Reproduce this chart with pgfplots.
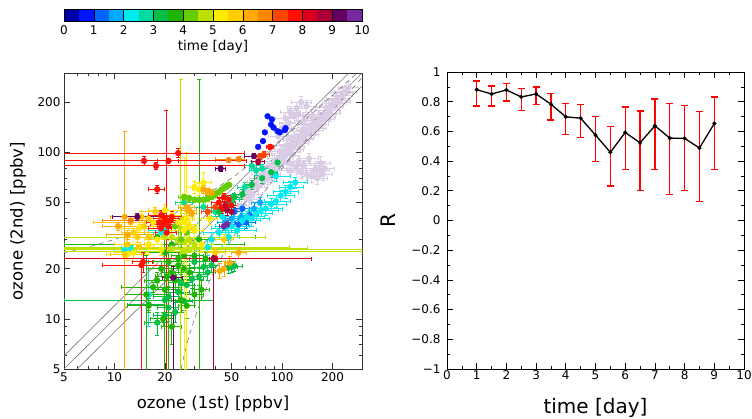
\documentclass[border=0pt]{standalone}
\usepackage{fontspec}
\setmainfont{DejaVu Sans}
\usepackage{pgfplots}
\pgfplotsset{compat=1.18}
\definecolor{c0}{RGB}{0,0,170}
\definecolor{c1}{RGB}{0,20,255}
\definecolor{c2}{RGB}{0,100,255}
\definecolor{c3}{RGB}{0,170,255}
\definecolor{c4}{RGB}{0,235,240}
\definecolor{c5}{RGB}{0,220,160}
\definecolor{c6}{RGB}{0,190,70}
\definecolor{c7}{RGB}{30,180,0}
\definecolor{c8}{RGB}{100,205,0}
\definecolor{c9}{RGB}{190,225,0}
\definecolor{c10}{RGB}{255,235,0}
\definecolor{c11}{RGB}{255,205,0}
\definecolor{c12}{RGB}{255,170,0}
\definecolor{c13}{RGB}{255,135,0}
\definecolor{c14}{RGB}{255,70,0}
\definecolor{c15}{RGB}{255,15,0}
\definecolor{c16}{RGB}{215,0,30}
\definecolor{c17}{RGB}{170,0,55}
\definecolor{c18}{RGB}{100,0,100}
\definecolor{c19}{RGB}{120,40,160}
\definecolor{lav}{RGB}{218,204,228}
\definecolor{refgray}{RGB}{120,120,120}
\pgfplotsset{
  table/x error minus=xm, table/x error plus=xp,
  table/y error minus=ym, table/y error plus=yp,
  sc/.style={only marks, mark=*, mark size=3bp, color=#1, mark options={line width=0.2bp},
    error bars/.cd, x dir=both, y dir=both, x explicit, y explicit,
    error bar style={line width=0.8bp}, error mark options={rotate=90, mark size=2bp, line width=0.8bp}},
  tfont/.style={font=\fontsize{12bp}{14bp}\selectfont},
}
\begin{document}
\begin{tikzpicture}[x=1bp,y=1bp]
\useasboundingbox (0,0) rectangle (752,418);
% ---------------- colour bar ----------------
\begin{axis}[at={(64bp,397bp)}, anchor=south west, scale only axis,
  width=298bp, height=12bp, xmin=0, xmax=10, ymin=0, ymax=1,
  axis on top, axis line style={line width=0.9bp},
  ytick=\empty, xtick={0,1,2,3,4,5,6,7,8,9,10},
  xticklabels={0,1,2,3,4,5,6,7,8,9,10}, major tick length=0pt,
  xmajorgrids, major grid style={black, line width=0.6bp},
  tick label style={tfont}, xticklabel style={yshift=-1bp},
  xlabel={time [day]}, xlabel style={font=\fontsize{13.5bp}{15bp}\selectfont, at={(axis description cs:0.5,0)}, anchor=center, yshift=-26bp}]
\addplot[fill=c0,draw=none] coordinates {(0,1)(0.5,1)} \closedcycle;
\addplot[fill=c1,draw=none] coordinates {(0.5,1)(1,1)} \closedcycle;
\addplot[fill=c2,draw=none] coordinates {(1,1)(1.5,1)} \closedcycle;
\addplot[fill=c3,draw=none] coordinates {(1.5,1)(2,1)} \closedcycle;
\addplot[fill=c4,draw=none] coordinates {(2,1)(2.5,1)} \closedcycle;
\addplot[fill=c5,draw=none] coordinates {(2.5,1)(3,1)} \closedcycle;
\addplot[fill=c6,draw=none] coordinates {(3,1)(3.5,1)} \closedcycle;
\addplot[fill=c7,draw=none] coordinates {(3.5,1)(4,1)} \closedcycle;
\addplot[fill=c8,draw=none] coordinates {(4,1)(4.5,1)} \closedcycle;
\addplot[fill=c9,draw=none] coordinates {(4.5,1)(5,1)} \closedcycle;
\addplot[fill=c10,draw=none] coordinates {(5,1)(5.5,1)} \closedcycle;
\addplot[fill=c11,draw=none] coordinates {(5.5,1)(6,1)} \closedcycle;
\addplot[fill=c12,draw=none] coordinates {(6,1)(6.5,1)} \closedcycle;
\addplot[fill=c13,draw=none] coordinates {(6.5,1)(7,1)} \closedcycle;
\addplot[fill=c14,draw=none] coordinates {(7,1)(7.5,1)} \closedcycle;
\addplot[fill=c15,draw=none] coordinates {(7.5,1)(8,1)} \closedcycle;
\addplot[fill=c16,draw=none] coordinates {(8,1)(8.5,1)} \closedcycle;
\addplot[fill=c17,draw=none] coordinates {(8.5,1)(9,1)} \closedcycle;
\addplot[fill=c18,draw=none] coordinates {(9,1)(9.5,1)} \closedcycle;
\addplot[fill=c19,draw=none] coordinates {(9.5,1)(10,1)} \closedcycle;
\end{axis}
% ---------------- scatter ----------------
\begin{axis}[at={(64bp,49bp)}, anchor=south west, scale only axis,
  width=298bp, height=296bp, xmode=log, ymode=log,
  xmin=5, xmax=300, ymin=5, ymax=300,
  axis line style={line width=0.9bp, black!80},
  xtick={5,10,20,50,100,200}, xticklabels={5,10,20,50,100,200},
  ytick={5,10,20,50,100,200}, yticklabels={5,10,20,50,100,200},
  minor xtick={6,7,8,9,30,40,60,70,80,90,300},
  minor ytick={6,7,8,9,30,40,60,70,80,90,300},
  tick align=inside, major tick length=6bp, minor tick length=3bp,
  tick style={line width=0.7bp, black!80},
  tick label style={tfont},
  xlabel={ozone (1st) [ppbv]}, ylabel={ozone (2nd) [ppbv]},
  label style={font=\fontsize{16.5bp}{18bp}\selectfont},
  xlabel style={at={(axis description cs:0.5,0)}, anchor=center, yshift=-35bp},
  ylabel style={at={(axis description cs:0,0.5)}, anchor=center, yshift=46bp}]
% lavender reference cloud
\addplot[sc=lav] table {
x y xm xp ym yp
56 48 6 8 4 4
60 54 8 8 5 5
63 58 7 9 5 5
64 52 7 9 5 5
66 56 8 10 5 5
68 64 8 10 6 6
70 66 8 10 6 6
72 62 10 10 6 6
74 70 10 12 6 6
76 74 10 12 6 6
78 68 10 12 6 8
80 76 12 12 8 8
82 70 12 12 6 8
84 74 12 14 8 8
86 82 12 14 8 8
88 84 12 14 8 8
90 88 14 14 8 10
92 80 12 16 8 8
94 86 12 16 8 8
96 92 14 16 10 10
98 102 14 16 10 10
100 98 14 16 10 10
102 88 16 16 8 10
104 96 16 16 8 10
106 104 16 18 10 10
108 110 16 18 10 10
110 100 16 18 10 10
112 112 16 20 10 12
114 104 16 20 10 12
116 108 18 20 10 12
118 122 18 20 12 12
120 118 18 20 12 12
124 114 18 20 12 12
126 118 18 20 12 12
128 126 20 22 12 12
132 120 20 22 12 14
134 126 20 22 12 14
136 134 20 24 12 14
140 128 20 24 12 14
142 136 20 24 12 14
146 142 22 24 14 14
150 136 22 26 14 14
152 146 22 26 14 14
156 150 24 26 14 16
158 140 24 26 14 16
162 148 24 28 14 16
166 156 24 28 14 16
168 162 24 28 16 16
174 158 26 30 16 16
178 164 26 30 16 16
180 170 26 30 16 18
184 186 26 30 16 18
188 178 28 32 18 18
192 172 28 32 18 18
196 188 30 32 18 20
200 190 30 32 18 20
205 198 30 34 20 20
210 205 30 34 20 20
215 210 30 36 20 20
220 200 30 36 20 20
228 220 32 36 20 22
230 228 32 36 20 22
240 232 34 36 20 22
250 245 34 36 20 22
110 150 14 16 12 14
105 160 14 16 12 14
112 175 14 16 12 14
118 165 16 18 14 14
122 185 14 18 16 16
125 170 14 18 16 16
130 200 16 20 16 18
135 155 16 20 16 18
140 190 18 20 16 16
150 165 18 20 16 16
100 140 14 14 12 12
95 125 12 14 10 10
115 85 16 18 8 8
122 80 16 18 6 8
125 88 16 18 6 8
130 76 16 20 6 6
135 84 16 20 6 6
140 74 18 20 6 6
145 92 18 20 6 6
150 72 18 20 6 6
155 78 18 20 6 6
162 70 20 24 6 6
168 78 20 24 6 6
175 74 22 24 6 8
180 80 22 24 6 8
160 80 20 22 8 8
170 86 22 24 8 8
110 78 14 16 6 6
};
% reference lines
\addplot[refgray, line width=0.6bp] coordinates {(5,5)(300,300)};
\addplot[refgray, line width=0.6bp] coordinates {(5,6)(250,300)};
\addplot[refgray, line width=0.6bp] coordinates {(6,5)(300,250)};
\addplot[refgray, line width=0.6bp, dash pattern=on 5bp off 4bp] coordinates {(5,25)(7,27)(10,30)(15,35)(20,40)(30,50)(50,70)(80,100)(120,140)(200,220)(280,300)};
\addplot[refgray, line width=0.6bp, dash pattern=on 5bp off 4bp] coordinates {(25,5)(26,6)(28,8)(30,10)(33,13)(36,16)(40,20)(50,30)(70,50)(100,80)(150,130)(200,180)(300,280)};
% coloured points by time bin
\addplot[sc=c1] table {
x y xm xp ym yp
82 165 0 0 0 0
87 158 0 0 0 0
86 147 0 0 0 0
89 141 0 0 0 0
94 134 0 0 0 0
97 132 0 0 0 0
104 136 0 0 0 0
105 140 0 0 0 0
79 132 0 0 0 0
77 117 0 0 0 0
72 108 0 0 0 0
};
\addplot[sc=c2] table {
x y xm xp ym yp
55 37 6 8 3 3
61 38 8 8 3 3
64 42 6 8 3 3
52 44 5 6 3 3
58 46 6 6 3 3
};
\addplot[sc=c3] table {
x y xm xp ym yp
50 40 6 8 3 3
57 41 6 8 3 3
68 46 8 10 4 4
74 50 8 10 4 4
46 38 5 6 3 3
};
\addplot[sc=c4] table {
x y xm xp ym yp
38 30 8 10 3 3
42 33 8 12 3 3
46 35 8 14 3 3
50 36 10 14 3 3
54 34 10 16 3 3
58 39 10 16 3 3
62 41 12 16 3 3
66 40 12 18 4 4
70 43 12 18 4 4
75 45 12 20 4 4
80 46 14 20 4 4
86 49 14 20 4 4
92 51 14 20 4 4
98 55 16 20 4 4
105 58 16 20 5 5
112 62 16 22 5 5
120 66 18 22 5 5
92 72 16 20 5 5
44 41 6 8 3 3
48 31 6 8 3 3
36 27 6 8 3 3
19 33 4 5 2 2
20 34 4 5 2 2
11.5 26 1.5 2 1 1
12.5 26.5 1.5 2 1 1
16 14 0.5 0.5 5 6
};
\addplot[sc=c5] table {
x y xm xp ym yp
26 50 3 3 3 3
34 47 4 4 3 3
45 47 5 6 3 3
50 52 5 6 4 4
66 83 6 8 5 5
70 78 6 8 5 5
60 62 6 6 4 4
76 80 8 8 5 5
40 44 4 6 3 3
};
\addplot[sc=c6] table {
x y xm xp ym yp
94 87 8 8 5 5
86 76 8 8 5 5
76 70 8 8 5 5
66 64 6 6 4 4
58 56 6 6 4 4
52 54 5 5 3 3
48 50 5 5 3 3
42 44 4 4 3 3
48 20.3 4 4 1.5 1.5
50 20.5 4 4 1.5 1.5
52 20.8 4 6 1.5 1.5
34 20.5 6 6 2 2
29 17.3 5 5 2 2
25 16.5 4 4 2 2
24 14.5 4 4 2 2
21 13.6 4 4 2 2
21 11.7 3 3 2 2
16 12.2 4 4 1 1
30 22 14 16 2 2
20 13 15 19 0 0
32 18 4 4 2 2
36 19 4 4 2 2
38 21 4 4 2 2
27 16 3 3 2 2
23 11 3 3 1.5 1.5
20 10.5 3 3 1.5 1.5
18 9.5 3 3 1.5 1.5
26 12.8 3 3 1.5 1.5
};
\addplot[sc=c7] table {
x y xm xp ym yp
20 25 5 6 24 8
21 22 4 4 21 6
20.5 18 3 3 17 10
32 30 10 15 29 245
22 28 17 38 2 2
18 31 17 51 1 1
15.5 14 4 6 13 10
17 15.5 6 8 1 1
16 12 4 4 1 1
19.5 10 3 3 1 1
22 9 3 3 2 2
19 20 3 3 2 2
22 19 3 3 2 2
24 21 4 4 2 2
26 20 4 4 2 2
28 19 4 4 2 2
23 17 3 3 2 2
25 13 3 3 2 2
27 12 3 3 2 2
30 14 4 4 2 2
33 15 4 4 2 2
20 15 3 3 2 2
18 17 3 3 2 2
24 23 4 4 2 2
26 24 4 4 2 2
30 24 4 4 2 2
35 23 4 4 2 2
};
\addplot[sc=c9] table {
x y xm xp ym yp
24.8 35 3 3 34 240
26 25.5 25 274 1 1
28 26 27 272 1 1
22 26.5 21 120 1 1
30 27 29 80 1 1
20 31 19 60 1 1
22 31 3 3 3 3
24 30 3 3 3 3
26 29 3 3 2 2
28 30 3 3 3 3
30 28 3 3 2 2
28 36 3 3 3 3
26 40 3 3 3 3
};
\addplot[sc=c8] table {
x y xm xp ym yp
26 54 2 2 2 2
28 53 2 2 2 2
30 52 2 2 2 2
32 52 2 2 2 2
34 52 2 2 2 2
36 53 2 2 2 2
38 54 2 2 2 2
40 56 2 2 2 2
42 58 2 2 2 2
44 60 2 2 2 2
46 62 2 2 2 2
48 64 2 2 2 2
23 36 3 3 3 3
27 33 3 3 3 3
25 30 3 4 3 3
};
\addplot[sc=c10] table {
x y xm xp ym yp
27 40 3 3 39 60
26.2 38 2 2 37 55
34 66 4 4 8 10
30 62 3 3 5 5
32 60 3 3 5 5
22 42 3 3 3 3
24 38 3 3 3 3
28 36 3 3 3 3
30 34 4 4 3 3
26 34 5 5 3 3
33 28 6 6 3 3
13 25 3 3 2 2
12 24.5 3 4 2 2
20 45 4 6 4 4
37 40 4 4 3 3
16 28 3 3 2 2
18 30 3 3 2 2
14 35 3 3 2 2
17 38 3 3 2 2
19 26 3 3 2 2
};
\addplot[sc=c11] table {
x y xm xp ym yp
14.5 41 3 4 3 3
13 33 2 3 2 2
13.7 31 2 3 2 2
16 31 2 3 2 2
11.5 24.4 2 3 1 1
15 36 4 5 3 3
12.5 38 5 8 2 2
17.5 44 3 3 3 3
40 25 4 6 2 2
45 30 5 6 2 2
12 28 2 3 2 2
14 27 2 3 2 2
16 40 3 3 2 2
};
\addplot[sc=c12] table {
x y xm xp ym yp
11.5 41 2 3 40 93
12 32 3 5 2 2
34 60 3 3 3 3
36 58 3 3 3 3
38 57 3 3 3 3
27 47 3 3 3 3
28 45 3 3 3 3
29 43 2 2 2 2
55 25 5 6 2 2
48.7 21.7 3 3 2 2
45 20 3 3 2 2
42.5 19.4 3 3 2 2
10.5 36 2 4 2 2
};
\addplot[sc=c13] table {
x y xm xp ym yp
55 91 15 5 3 3
48 90 8 8 2 2
12.5 39 4 10 2 2
19 41 3 3 3 3
};
\addplot[sc=c14] table {
x y xm xp ym yp
78 97 6 6 4 4
74 95 6 6 4 4
40 47 4 4 3 3
36 44 3 3 3 3
};
\addplot[sc=c15] table {
x y xm xp ym yp
24 99 23 36 6 6
15 89 14 46 6 6
21 89 3 3 3 3
17.7 83 16.7 42 4 4
85 108 4 4 4 4
18 60 2 2 3 3
20.4 38 4 4 37 140
19.5 37 3 4 3 3
21 36 3 3 3 3
20 40 3 4 3 3
19 35 3 3 3 3
20.5 33 3 3 3 3
21.5 39 3 3 3 3
19 42 3 3 3 3
22 41 3 3 3 3
18.5 38 3 3 3 3
45 54 4 4 3 3
48 52 4 4 3 3
42 50 4 4 3 3
44 46 3 3 3 3
50 48 4 4 3 3
14.5 21 6 6 20 1
14.8 22 2 2 3 3
};
\addplot[sc=c16] table {
x y xm xp ym yp
40 23 39 110 1 1
46 48 3 3 3 3
};
\addplot[sc=c17] table {
x y xm xp ym yp
39 23 2 2 22 1
47 45 3 3 3 3
50 44 3 3 3 3
72 88 6 6 3 3
};
\addplot[sc=c18] table {
x y xm xp ym yp
13.7 41 4 6 2 2
43 80 3 3 3 3
22.4 17.7 3 3 16.7 3
68 95 8 8 3 3
};
\addplot[sc=c19] table {
x y xm xp ym yp
45 36 3 3 2 2
47 37 2 2 2 2
};
\end{axis}
% ---------------- correlation ----------------
\begin{axis}[at={(447bp,49bp)}, anchor=south west, scale only axis,
  width=297bp, height=297bp, xmin=0, xmax=10, ymin=-1, ymax=1,
  axis line style={line width=0.9bp},
  xtick={0,1,2,3,4,5,6,7,8,9,10}, xticklabels={0,1,2,3,4,5,6,7,8,9,10},
  ytick={-1,-0.8,-0.6,-0.4,-0.2,0,0.2,0.4,0.6,0.8,1},
  yticklabels={−1,−0.8,−0.6,−0.4,−0.2,0,0.2,0.4,0.6,0.8,1},
  minor x tick num=1, minor y tick num=1,
  tick align=inside, major tick length=6bp, minor tick length=3bp,
  tick style={line width=0.7bp, black},
  tick label style={tfont}, xticklabel style={yshift=2bp}, yticklabel style={xshift=-3bp},
  xlabel={time [day]}, ylabel={R},
  label style={font=\fontsize{20bp}{22bp}\selectfont},
  xlabel style={at={(axis description cs:0.5,0)}, anchor=center, yshift=-39bp},
  ylabel style={at={(axis description cs:0,0.5)}, anchor=center, yshift=59bp}]
\addplot[red, line width=1.3bp, mark=none, draw=none,
  error bars/.cd, y dir=both, y explicit,
  error bar style={line width=1.3bp, solid}, error mark options={rotate=90, mark size=3.5bp, line width=1.3bp}]
 table {
x y xm xp ym yp
1.0 0.881 0 0 0.109 0.059
1.5 0.852 0 0 0.080 0.054
2.0 0.879 0 0 0.074 0.045
2.5 0.832 0 0 0.092 0.058
3.0 0.852 0 0 0.069 0.047
3.5 0.783 0 0 0.107 0.072
4.0 0.698 0 0 0.121 0.089
4.5 0.689 0 0 0.132 0.094
5.0 0.575 0 0 0.179 0.127
5.5 0.459 0 0 0.226 0.174
6.0 0.593 0 0 0.248 0.172
6.5 0.523 0 0 0.319 0.215
7.0 0.638 0 0 0.296 0.181
7.5 0.555 0 0 0.381 0.232
8.0 0.553 0 0 0.352 0.221
8.5 0.488 0 0 0.360 0.244
9.0 0.653 0 0 0.308 0.179
};
\addplot[black, line width=1.3bp, mark=*, mark size=1.3bp] table {
x y xm xp ym yp
1.0 0.881 0 0 0 0
1.5 0.852 0 0 0 0
2.0 0.879 0 0 0 0
2.5 0.832 0 0 0 0
3.0 0.852 0 0 0 0
3.5 0.783 0 0 0 0
4.0 0.698 0 0 0 0
4.5 0.689 0 0 0 0
5.0 0.575 0 0 0 0
5.5 0.459 0 0 0 0
6.0 0.593 0 0 0 0
6.5 0.523 0 0 0 0
7.0 0.638 0 0 0 0
7.5 0.555 0 0 0 0
8.0 0.553 0 0 0 0
8.5 0.488 0 0 0 0
9.0 0.653 0 0 0 0
};
\end{axis}
\end{tikzpicture}
\end{document}
